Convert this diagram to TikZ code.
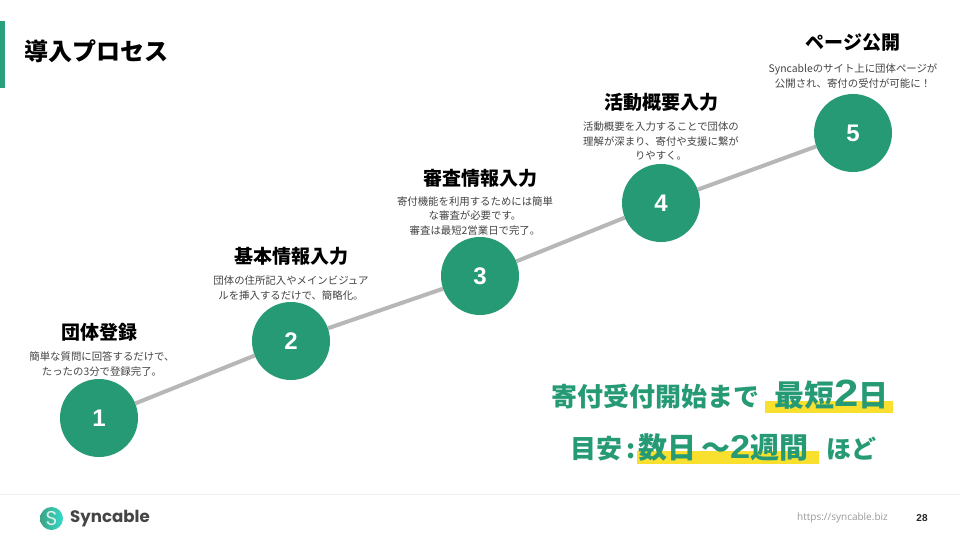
\documentclass[tikz,border=0pt]{standalone}
\usepackage{graphicx}
\usepackage{fontspec}
\setmainfont{Noto Sans CJK JP}
\newfontfamily\numfont{Liberation Sans}
\newfontfamily\latfont{Open Sans}
\newfontfamily\logofont{Poppins}
\usetikzlibrary{backgrounds}
\definecolor{brand}{HTML}{269A75}
\definecolor{barc}{HTML}{2C9F7E}
\definecolor{linec}{HTML}{B7B7B7}
\definecolor{markc}{HTML}{F9E02F}
\definecolor{desc}{HTML}{444444}
\definecolor{logot}{HTML}{454545}
\tikzset{
  stepcircle/.style={circle,fill=brand,draw=none,minimum size=78pt,inner sep=0pt,text=white,font=\numfont\bfseries\fontsize{24}{24}\selectfont},
  stephead/.style={anchor=center,inner sep=0pt,font=\bfseries\fontsize{19}{20}\selectfont,text=black},
  stepdesc/.style={anchor=center,inner sep=0pt,align=center,text=desc,font=\fontsize{10.4}{14.2}\selectfont},
  stepline/.style={draw=linec,line width=4pt},
  bigtext/.style={anchor=base west,inner sep=0pt,text=brand,font=\bfseries\fontsize{26}{26}\selectfont},
  markbar/.style={fill=markc,draw=none,inner sep=0pt},
}
\begin{document}
\begin{tikzpicture}[x=1pt,y=-1pt]
\useasboundingbox (0,0) rectangle (960,540);
\node[fill=barc,minimum width=5pt,minimum height=67pt,inner sep=0pt] (bar) at (2,54.5) {};
\node[anchor=west,inner sep=0pt,font=\bfseries\fontsize{24}{24}\selectfont] (title) at (24,51) {導入プロセス};

\node[stepcircle] (c1) at (99,418) {1};
\node[stepcircle] (c2) at (291,341) {2};
\node[stepcircle] (c3) at (480,276) {3};
\node[stepcircle] (c4) at (661,203) {4};
\node[stepcircle] (c5) at (853,133) {5};
\begin{scope}[on background layer]
\fill[white] (0,0) rectangle (960,540);
\draw[stepline] (c1) -- (c2);
\draw[stepline] (c2) -- (c3);
\draw[stepline] (c3) -- (c4);
\draw[stepline] (c4) -- (c5);
\end{scope}

\node[stephead] (h1) at (99,332) {団体登録};
\node[stepdesc] (d1) at (102,364) {簡単な質問に回答するだけで、\\たったの3分で登録完了。};
\node[stephead] (h2) at (291,256) {基本情報入力};
\node[stepdesc] (d2) at (291,288) {団体の住所記入やメインビジュア\\ルを挿入するだけで、簡略化。};
\node[stephead] (h3) at (480,178) {審査情報入力};
\node[stepdesc] (d3) at (475,216) {寄付機能を利用するためには簡単\\な審査が必要です。\\審査は最短2営業日で完了。};
\node[stephead] (h4) at (661,102) {活動概要入力};
\node[stepdesc] (d4) at (661,141) {活動概要を入力することで団体の\\理解が深まり、寄付や支援に繋が\\りやすく。};
\node[stephead] (h5) at (853,43) {ページ公開};
\node[stepdesc] (d5) at (853,76) {Syncableのサイト上に団体ページが\\公開され、寄付の受付が可能に！};

\node[markbar,minimum width=128pt,minimum height=12.5pt] (m1) at (829,407) {};
\node[markbar,minimum width=182pt,minimum height=13pt] (m2) at (728,457.5) {};
\node[bigtext] (t1) at (551,406) {寄付受付開始まで};
\node[anchor=base west,inner sep=0pt,text=brand] (t2) at (774,406) {\bfseries\fontsize{30}{30}\selectfont 最短\scalebox{1.15}[1]{\numfont\bfseries\fontsize{38}{38}\selectfont 2}日};
\node[bigtext] (t3) at (570,458) {目安\,:};
\node[anchor=base west,inner sep=0pt,text=brand] (t4) at (638,458) {\bfseries\fontsize{29}{29}\selectfont 数日\hspace{5pt}～\scalebox{1.1}[1]{\numfont\bfseries\fontsize{33}{33}\selectfont 2}週間};
\node[anchor=base west,inner sep=0pt,text=brand,font=\bfseries\fontsize{25}{25}\selectfont] (t5) at (826,458) {ほど};

\draw[draw=black!6,line width=0.6pt] (0,494.5) -- (960,494.5);
\shade[left color=brand!90!white,right color=cyan!55!brand!85!white] (51.5,518.5) circle (11.5pt);
\node[inner sep=0pt,text=white!85!brand,font=\logofont\fontsize{20}{20}\selectfont] (ls) at (51.5,518.5) {S};
\node[anchor=west,inner sep=0pt,text=logot,font=\logofont\bfseries\fontsize{16.6}{17}\selectfont] (logo) at (70,518.5) {Syncable};
\node[anchor=west,inner sep=0pt,text=black!40,font=\latfont\fontsize{10}{10}\selectfont] (url) at (797,518) {https://syncable.biz};
\node[anchor=center,inner sep=0pt,text=black!85,font=\numfont\bfseries\fontsize{10}{10}\selectfont] (pg) at (922,518) {28};
\end{tikzpicture}
\end{document}
